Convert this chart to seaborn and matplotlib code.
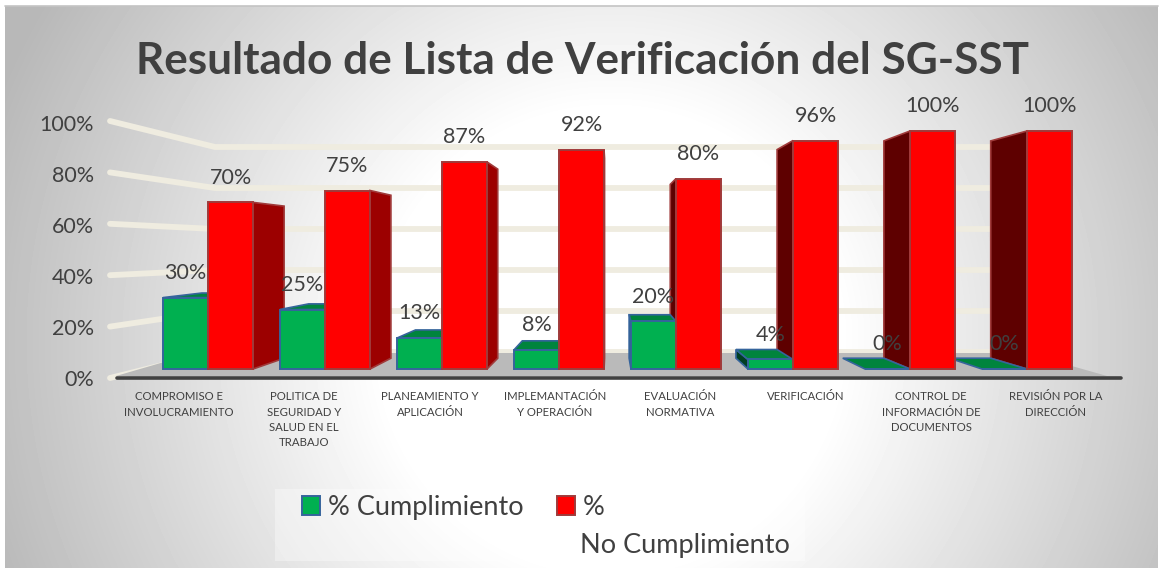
import matplotlib
matplotlib.use('Agg')
import matplotlib.pyplot as plt
from matplotlib.patches import Patch, Polygon, Rectangle
import numpy as np
import pandas as pd
import seaborn as sns

categorias = ['COMPROMISO E\nINVOLUCRAMIENTO', 'POLITICA DE\nSEGURIDAD Y\nSALUD EN EL\nTRABAJO',
              'PLANEAMIENTO Y\nAPLICACIÓN', 'IMPLEMANTACIÓN\nY OPERACIÓN',
              'EVALUACIÓN\nNORMATIVA', 'VERIFICACIÓN',
              'CONTROL DE\nINFORMACIÓN DE\nDOCUMENTOS', 'REVISIÓN POR LA\nDIRECCIÓN']
cumplimiento = [30, 25, 13, 8, 20, 4, 0, 0]
no_cumplimiento = [70, 75, 87, 92, 80, 96, 100, 100]
ticks = [0, 20, 40, 60, 80, 100]
titulo = 'Resultado de Lista de Verificación del SG-SST'

TXT = '#404040'
W, H = 1161, 571

sns.set_theme(style='white')
plt.rcParams['font.family'] = ['Lato', 'DejaVu Sans']

# the whole figure is one axes, these two turn picture pixels into axis units
def px(x):
    return (x - 208) / 117

def py(y):
    return (369 - y) / 2.38

# vanishing point of the fake 3D, and how far back the bars go
VX, VY, K = px(610), py(245), 0.087

def atras(x, y, k=K):
    return x + (VX - x) * k, y + (VY - y) * k

df = pd.DataFrame({
    'cat': categorias * 2,
    'valor': cumplimiento + no_cumplimiento,
    'serie': ['% Cumplimiento'] * 8 + ['% No Cumplimiento'] * 8,
})

fig = plt.figure(figsize=(W / 100, H / 100), dpi=100, facecolor='white')
ax = fig.add_axes([0, 0, 1, 1])

sns.barplot(data=df, x='cat', y='valor', hue='serie', palette=['#00b050', '#ff0000'],
            width=0.77, gap=0, saturation=1, legend=False, ax=ax, zorder=3)

# background glow
yy, xx = np.mgrid[6:568, 5:1158]
r = np.hypot(xx - 610, yy - 340)
fondo = 1 - 0.28 * np.clip((r - 230) / 430, 0, 1)
ax.imshow(fondo, cmap='gray', vmin=0, vmax=1, aspect='auto', zorder=0,
          extent=[px(5), px(1158), py(568), py(6)], origin='upper')
ax.plot([px(5), px(1158)], [py(6), py(6)], color='#c4c4c4', lw=1.2, zorder=0.2)

ax.set_xlim(px(0), px(W))
ax.set_ylim(py(H), py(0))
ax.set_xticks([])
ax.set_yticks([])
ax.set_xlabel('')
ax.set_ylabel('')
sns.despine(ax=ax, left=True, bottom=True)

# walls
for t in ticks:
    ax.plot([px(110), px(215), px(1000)],
            [py(378 - 2.57 * t), py(352 - 2.05 * t), py(352 - 2.05 * t)],
            color='#efece0', lw=4.2, solid_capstyle='round', solid_joinstyle='round', zorder=0.5)
    ax.text(px(94), py(380 - 2.55 * t), f'{t}%', ha='right', va='center', fontsize=15.5, color=TXT)

# floor and axis line
ax.add_patch(Polygon([(px(116), py(376)), (px(1107), py(376)), (px(1026), py(353)), (px(195), py(353))],
                     facecolor='#bababa', edgecolor='none', zorder=1))
ax.plot([px(117), px(1121)], [py(378), py(378)], color=TXT, lw=2.6, solid_capstyle='round', zorder=1.5)

# side and top faces
for n, cont in enumerate(ax.containers):
    borde = '#35649c' if n == 0 else '#a03a3a'
    for b in cont:
        x0, x1, alto = b.get_x(), b.get_x() + b.get_width(), b.get_height()
        b.set_edgecolor(borde)
        b.set_linewidth(1.4)
        if x1 < VX:
            xs, color = x1, '#006a30' if n == 0 else '#9c0000'
        else:
            xs, color = x0, '#003f22' if n == 0 else '#5e0000'
        if not (x0 < VX < x1) and alto > 0:
            xa, y0a = atras(xs, 0)
            xa, y1a = atras(xs, alto)
            ax.add_patch(Polygon([(xs, 0), (xs, alto), (xa, y1a), (xa, y0a)], facecolor=color,
                                 edgecolor=borde, lw=1.2, zorder=2.5))
        if alto < VY:
            xa0, ya = atras(x0, alto)
            xa1, ya = atras(x1, alto)
            ax.add_patch(Polygon([(x0, alto), (x1, alto), (xa1, ya), (xa0, ya)], facecolor='#00843d',
                                 edgecolor=borde, lw=1.2, zorder=2.6))
    for t in ax.bar_label(cont, fmt='%.0f%%', padding=10.5, fontsize=15.5, color=TXT):
        t.set_zorder(6)

# category labels sit left of the groups like in the picture
centros = [179, 304, 430, 555, 680, 806, 931, 1056]
for c, lab in zip(centros, categorias):
    ax.text(px(c), py(391), lab, ha='center', va='top', fontsize=8.2, color=TXT, linespacing=1.5, zorder=6)

ax.set_title(titulo, x=583 / W, y=1 - 82 / H, fontsize=31.8, fontweight='bold', color=TXT)

# legend
ax.add_patch(Rectangle((px(275), py(561)), px(805) - px(275), py(489) - py(561),
                       facecolor='white', alpha=0.35, edgecolor='none', zorder=0.4))
mano = [Patch(facecolor='#00b050', edgecolor='#35649c', lw=1.4, label='% Cumplimiento'),
        Patch(facecolor='#ff0000', edgecolor='#a03a3a', lw=1.4, label='%')]
ax.legend(handles=mano, loc='upper left', bbox_to_anchor=(px(302), py(495)), bbox_transform=ax.transData,
          ncol=2, frameon=False, fontsize=19.5, labelcolor=TXT, handlelength=0.66, handleheight=0.65,
          handletextpad=0.3, columnspacing=1.22, borderpad=0, borderaxespad=0)
ax.text(px(580), py(545), 'No Cumplimiento', ha='left', va='center', fontsize=19.5, color=TXT, zorder=6)

fig.savefig('out.png', dpi=100)
